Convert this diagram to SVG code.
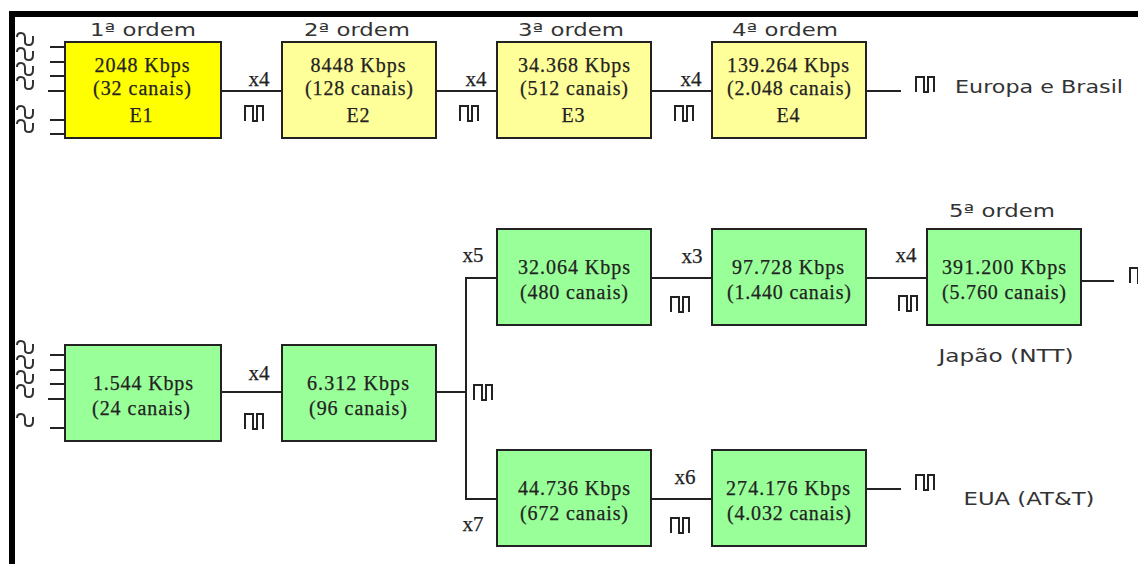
<svg xmlns="http://www.w3.org/2000/svg" width="1138" height="564" viewBox="0 0 1138 564">
<style>
.box{stroke:#222;stroke-width:2}
.y1{fill:#ffff00}.y2{fill:#ffff99}.g{fill:#99ff99}
.c{fill:none;stroke:#222;stroke-width:2}
.p{fill:none;stroke:#222;stroke-width:2}
.w{fill:none;stroke:#333;stroke-width:2}
.t{font-family:"Liberation Serif",serif;font-size:20px;fill:#222;text-anchor:middle;stroke:#222;stroke-width:.25}
.s{font-family:"DejaVu Sans",sans-serif;font-size:17px;fill:#333;text-anchor:middle}
.x{font-family:"Liberation Serif",serif;font-size:21px;fill:#222;text-anchor:middle;stroke:#222;stroke-width:.25}
</style>
<defs>
<path id="pulse" class="p" d="M1 16V1H9V16H13V1H19V16"/>
<path id="wave" class="w" d="M0 -3Q0 -7 4 -7Q8 -7 8 -2V2Q8 5 12 5Q16 5 16 0V-4"/>
</defs>
<rect width="1138" height="564" fill="#fff"/>
<rect id="frame-top" x="9" y="11" width="1129" height="6" fill="#000"/>
<rect id="frame-left" x="9" y="11" width="6" height="553" fill="#000"/>

<g id="connectors">
<path class="c" d="M50 47H65M50 62H65M50 76H65M48 91H65M50 120H65M50 134H65"/>
<path class="c" d="M50 355H65M50 370H65M50 384H65M48 399H65M50 428H65"/>
<path class="c" d="M221 91H282M436 91H497M651 91H712M866 91H901"/>
<path class="c" d="M221 392H282M436 392H466M466 392V278H497M466 392V499H497"/>
<path class="c" d="M651 278H712M866 278H927M1081 281H1114"/>
<path class="c" d="M651 499H712M866 489H901"/>
<g id="waves">
<use href="#wave" x="17" y="40"/><use href="#wave" x="17" y="55"/><use href="#wave" x="17" y="70"/><use href="#wave" x="17" y="84"/>
<use href="#wave" x="17" y="113"/><use href="#wave" x="17" y="127"/>
<use href="#wave" x="17" y="348"/><use href="#wave" x="17" y="363"/><use href="#wave" x="17" y="378"/><use href="#wave" x="17" y="392"/>
<use href="#wave" x="17" y="421"/>
</g>
<g id="pulses">
<use href="#pulse" x="244" y="105"/><use href="#pulse" x="459" y="105"/><use href="#pulse" x="674" y="105"/><use href="#pulse" x="915" y="76"/>
<use href="#pulse" x="244" y="413"/><use href="#pulse" x="473" y="384"/>
<use href="#pulse" x="670" y="296"/><use href="#pulse" x="898" y="295"/><use href="#pulse" x="1129" y="267"/>
<use href="#pulse" x="670" y="517"/><use href="#pulse" x="915" y="474"/>
</g>
</g>

<g id="labels">
<text class="s" x="143" y="36" textLength="106" lengthAdjust="spacingAndGlyphs">1ª ordem</text>
<text class="s" x="357" y="36" textLength="106" lengthAdjust="spacingAndGlyphs">2ª ordem</text>
<text class="s" x="571" y="36" textLength="106" lengthAdjust="spacingAndGlyphs">3ª ordem</text>
<text class="s" x="785" y="36" textLength="106" lengthAdjust="spacingAndGlyphs">4ª ordem</text>
<text class="s" x="1002" y="217" textLength="106" lengthAdjust="spacingAndGlyphs">5ª ordem</text>
<text class="s" x="1039" y="93" textLength="168" lengthAdjust="spacingAndGlyphs">Europa e Brasil</text>
<text class="s" x="1006" y="362" textLength="135" lengthAdjust="spacingAndGlyphs">Japão (NTT)</text>
<text class="s" x="1029" y="505" textLength="131" lengthAdjust="spacingAndGlyphs">EUA (AT&amp;T)</text>
<text class="x" x="259" y="86">x4</text><text class="x" x="476" y="86">x4</text><text class="x" x="691" y="86">x4</text>
<text class="x" x="259" y="380">x4</text><text class="x" x="473" y="262">x5</text><text class="x" x="473" y="531">x7</text>
<text class="x" x="692" y="263">x3</text><text class="x" x="906" y="262">x4</text><text class="x" x="685" y="484">x6</text>
</g>

<g id="E1"><rect class="box y1" x="65" y="42" width="156" height="96"/>
<text class="t" x="142" y="72" textLength="95">2048 Kbps</text><text class="t" x="142" y="95" textLength="98">(32 canais)</text><text class="t" x="141" y="122" textLength="23">E1</text></g>
<g id="E2"><rect class="box y2" x="282" y="42" width="154" height="96"/>
<text class="t" x="358" y="72" textLength="95">8448 Kbps</text><text class="t" x="359" y="95" textLength="108">(128 canais)</text><text class="t" x="358" y="122" textLength="23">E2</text></g>
<g id="E3"><rect class="box y2" x="497" y="42" width="154" height="96"/>
<text class="t" x="574" y="72" textLength="112">34.368 Kbps</text><text class="t" x="574" y="95" textLength="108">(512 canais)</text><text class="t" x="573" y="122" textLength="23">E3</text></g>
<g id="E4"><rect class="box y2" x="712" y="42" width="154" height="96"/>
<text class="t" x="788" y="72" textLength="122">139.264 Kbps</text><text class="t" x="789" y="95" textLength="124">(2.048 canais)</text><text class="t" x="788" y="122" textLength="23">E4</text></g>

<g id="T1"><rect class="box g" x="65" y="345" width="156" height="96"/>
<text class="t" x="143" y="390" textLength="100">1.544 Kbps</text><text class="t" x="141" y="415" textLength="98">(24 canais)</text></g>
<g id="T2"><rect class="box g" x="282" y="345" width="154" height="96"/>
<text class="t" x="358" y="390" textLength="102">6.312 Kbps</text><text class="t" x="358" y="415" textLength="98">(96 canais)</text></g>
<g id="J3"><rect class="box g" x="497" y="229" width="154" height="96"/>
<text class="t" x="574" y="274" textLength="112">32.064 Kbps</text><text class="t" x="574" y="299" textLength="108">(480 canais)</text></g>
<g id="J4"><rect class="box g" x="712" y="229" width="154" height="96"/>
<text class="t" x="788" y="274" textLength="112">97.728 Kbps</text><text class="t" x="789" y="299" textLength="124">(1.440 canais)</text></g>
<g id="J5"><rect class="box g" x="927" y="229" width="154" height="96"/>
<text class="t" x="1004" y="274" textLength="124">391.200 Kbps</text><text class="t" x="1004" y="299" textLength="124">(5.760 canais)</text></g>
<g id="U3"><rect class="box g" x="497" y="450" width="154" height="96"/>
<text class="t" x="574" y="495" textLength="112">44.736 Kbps</text><text class="t" x="574" y="520" textLength="108">(672 canais)</text></g>
<g id="U4"><rect class="box g" x="712" y="450" width="154" height="96"/>
<text class="t" x="788" y="495" textLength="124">274.176 Kbps</text><text class="t" x="789" y="520" textLength="124">(4.032 canais)</text></g>
</svg>
